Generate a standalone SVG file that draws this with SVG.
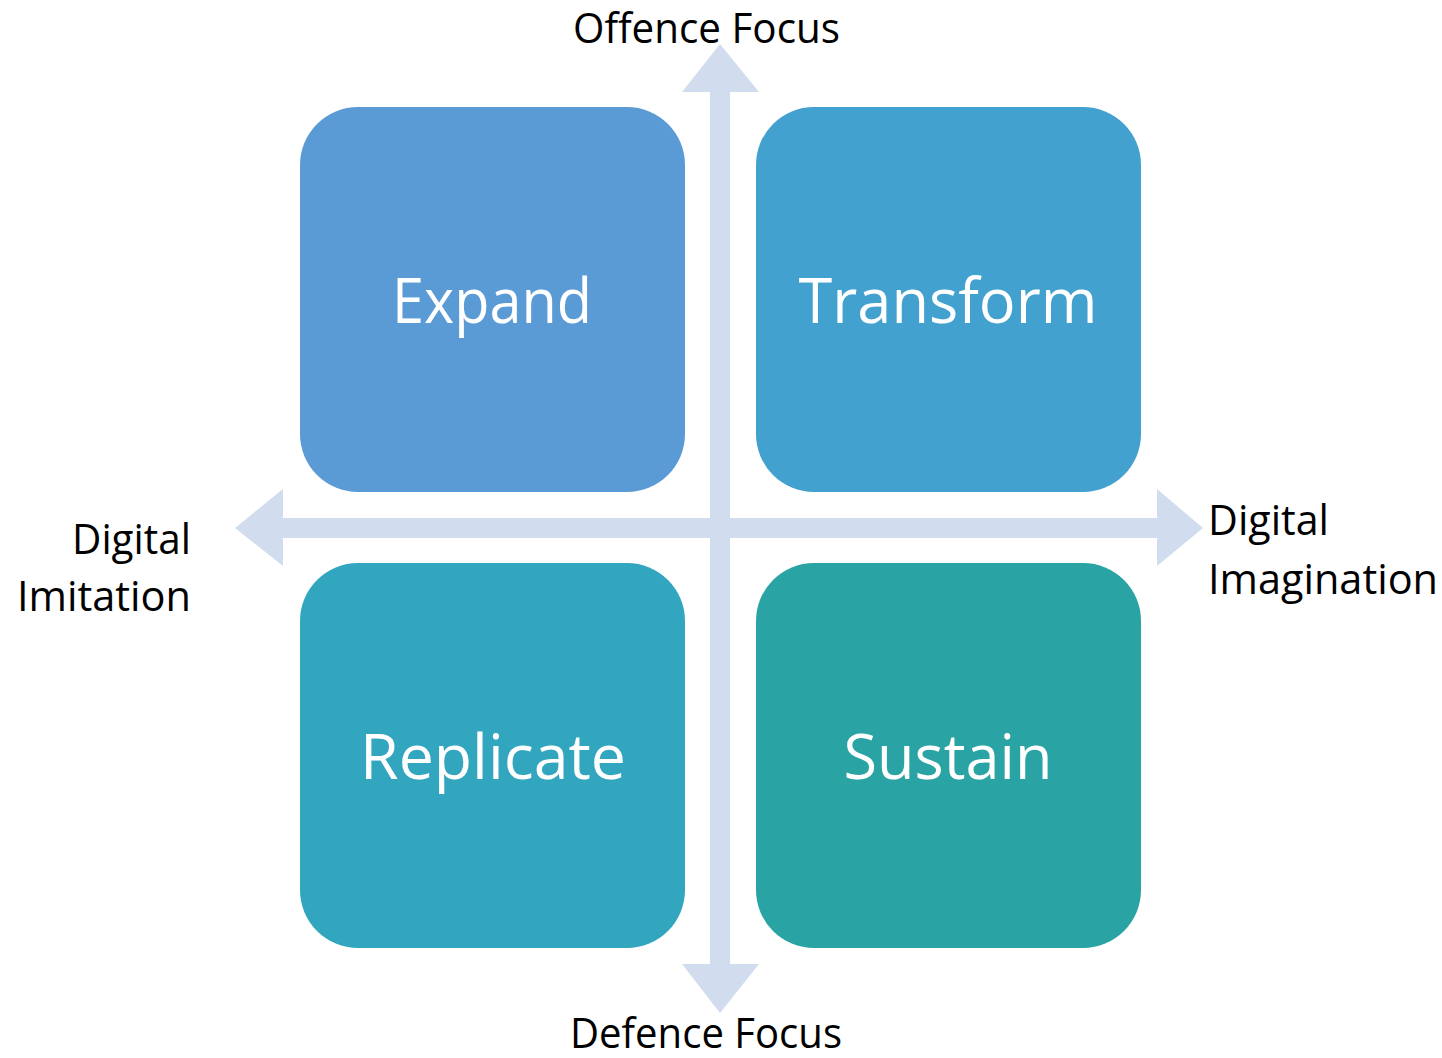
<svg xmlns="http://www.w3.org/2000/svg" width="1442" height="1058" viewBox="0 0 1442 1058">
<style>
.box{stroke:none}
.bt{font-family:"Open Sans","Liberation Sans",sans-serif;font-size:62px;fill:#ffffff;text-anchor:middle}
.lbl{font-family:"Open Sans","Liberation Sans",sans-serif;font-size:42px;fill:#000000}
.ax{fill:#D1DCEE;stroke:none}
</style>
<rect width="1442" height="1058" fill="#ffffff"/>
<g id="connectors">
<polygon class="ax" points="720,44 759,92 730,92 730,964 759,964 720,1013 682,964 710,964 710,92 682,92"/>
<polygon class="ax" points="235,528 283,489 283,518 1157,518 1157,489 1203,528 1157,566 1157,538 283,538 283,566"/>
</g>
<g id="expand">
<rect class="box" x="300" y="107" width="385" height="385" rx="58" fill="#5B9BD5"/>
<text class="bt" x="492" y="323" textLength="200" lengthAdjust="spacingAndGlyphs">Expand</text>
</g>
<g id="transform">
<rect class="box" x="756" y="107" width="385" height="385" rx="58" fill="#42A1CE"/>
<text class="bt" x="948" y="323" textLength="299" lengthAdjust="spacingAndGlyphs">Transform</text>
</g>
<g id="replicate">
<rect class="box" x="300" y="563" width="385" height="385" rx="58" fill="#31A6BE"/>
<text class="bt" x="493" y="779" textLength="266" lengthAdjust="spacingAndGlyphs">Replicate</text>
</g>
<g id="sustain">
<rect class="box" x="756" y="563" width="385" height="385" rx="58" fill="#29A3A3"/>
<text class="bt" x="948" y="779" textLength="209" lengthAdjust="spacingAndGlyphs">Sustain</text>
</g>
<g id="offence-focus">
<text class="lbl" x="573" y="43" textLength="267" lengthAdjust="spacingAndGlyphs">Offence Focus</text>
</g>
<g id="defence-focus">
<text class="lbl" x="570" y="1048" textLength="272" lengthAdjust="spacingAndGlyphs">Defence Focus</text>
</g>
<g id="digital-imitation">
<text class="lbl" x="72" y="554" textLength="119" lengthAdjust="spacingAndGlyphs">Digital</text>
<text class="lbl" x="17" y="611" textLength="174" lengthAdjust="spacingAndGlyphs">Imitation</text>
</g>
<g id="digital-imagination">
<text class="lbl" x="1208" y="535" textLength="121" lengthAdjust="spacingAndGlyphs">Digital</text>
<text class="lbl" x="1208" y="594" textLength="230" lengthAdjust="spacingAndGlyphs">Imagination</text>
</g>
</svg>
